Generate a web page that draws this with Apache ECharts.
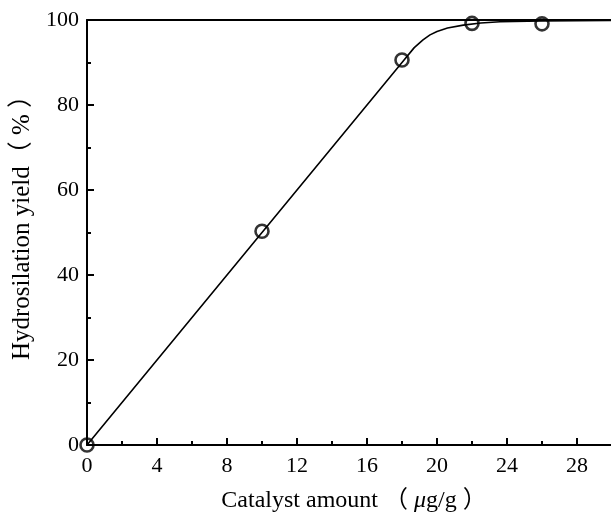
<!DOCTYPE html>
<html><head><meta charset="utf-8">
<script src="https://cdn.jsdelivr.net/npm/echarts@6/dist/echarts.min.js"></script>
<style>html,body{margin:0;padding:0;background:#fff;overflow:hidden}#c{width:611px;height:512px}</style>
</head><body><div id="c"></div>
<script>
var pointX = [0, 10, 18, 22, 26];
var pointY = [0, 50.3, 90.6, 99.2, 99.1];
var curveX = [0, 10, 18, 18.7, 19.2, 19.6, 20, 20.6, 21.5, 22.5, 23.6, 26, 30, 32];
var curveY = [0, 50, 90, 93.5, 95.3, 96.5, 97.3, 98.1, 98.8, 99.3, 99.6, 99.8, 99.9, 100];
var xTicks = [0, 4, 8, 12, 16, 20, 24, 28];
var yTicks = [0, 20, 40, 60, 80, 100];

var font = "'Liberation Serif','Times New Roman',serif";
var cjk = "'Liberation Serif','Noto Sans CJK SC',serif";
var chart = echarts.init(document.getElementById('c'));
function pairs(xs, ys){ return xs.map(function(x,i){return [x, ys[i]];}); }
chart.setOption({
  animation: false,
  grid: {left: 87, top: 20, width: 560, height: 425, containLabel: false, outerBoundsMode: 'none'},
  xAxis: [{
    type: 'value', min: 0, max: 32, interval: 4,
    axisLine: {lineStyle: {color: '#000', width: 2}},
    axisTick: {inside: true, length: 7, lineStyle: {color: '#000', width: 2}},
    minorTick: {show: true, splitNumber: 2, length: 4, lineStyle: {color: '#000', width: 2}},
    splitLine: {show: false},
    axisLabel: {color: '#000', fontFamily: font, fontSize: 22, margin: 10,
      formatter: function(v){ return xTicks.indexOf(v) >= 0 ? String(v) : ''; }},
    name: 'Catalyst amount （ {i|μ}g/g ）', nameLocation: 'middle', nameGap: 44,
    nameTextStyle: {color: '#000', fontFamily: cjk, fontSize: 24, padding: [0, 26, 0, 0],
      rich: {i: {fontStyle: 'italic', fontFamily: font, fontSize: 24, color: '#000'}}}
  }, {
    type: 'value', position: 'top', min: 0, max: 32,
    axisLine: {show: true, lineStyle: {color: '#000', width: 2}},
    axisTick: {show: false}, axisLabel: {show: false}, splitLine: {show: false}
  }],
  yAxis: {
    type: 'value', min: 0, max: 100, interval: 20,
    axisLine: {lineStyle: {color: '#000', width: 2}},
    axisTick: {inside: true, length: 7, lineStyle: {color: '#000', width: 2}},
    minorTick: {show: true, splitNumber: 2, length: 4, lineStyle: {color: '#000', width: 2}},
    splitLine: {show: false},
    axisLabel: {color: '#000', fontFamily: font, fontSize: 22, margin: 8,
      formatter: function(v){ return yTicks.indexOf(v) >= 0 ? String(v) : ''; }},
    name: 'Hydrosilation yield（ % ）', nameLocation: 'middle', nameGap: 52,
    nameTextStyle: {color: '#000', fontFamily: cjk, fontSize: 25, padding: [0, 0, 0, 22]}
  },
  series: [{
    type: 'line', data: pairs(curveX, curveY), showSymbol: false, symbol: 'none',
    lineStyle: {color: '#000', width: 1.6}, z: 2
  }, {
    type: 'scatter', data: pairs(pointX, pointY), symbol: 'circle', symbolSize: 13,
    itemStyle: {color: 'rgba(0,0,0,0)', borderColor: '#000', borderWidth: 2.6}, z: 3
  }]
});
</script></body></html>
